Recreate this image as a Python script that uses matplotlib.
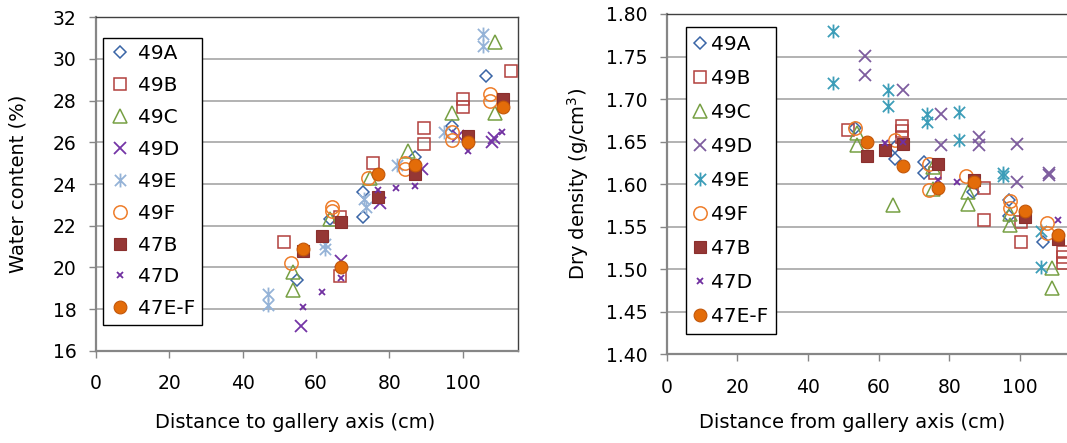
"""
Water content and dry density against distance to the gallery axis.
Two scatter panels, Excel-like styling.
"""
import matplotlib
matplotlib.use("Agg")
import matplotlib.pyplot as plt
from matplotlib.path import Path
from matplotlib.legend_handler import HandlerLine2D
from matplotlib.ticker import MultipleLocator, FormatStrFormatter

plt.rcParams["font.family"] = ["DejaVu Sans"]

SERIES = ["49A", "49B", "49C", "49D", "49E", "49F", "47B", "47D", "47E-F"]

# ---- left panel: water content (%) ----
wc_49a_x = [54.7, 63.8, 72.9, 72.9, 87.0, 97.0, 106.3]
wc_49a_y = [19.4, 22.3, 23.6, 22.4, 25.3, 26.8, 29.2]
wc_49b_x = [51.4, 66.5, 66.5, 75.6, 89.5, 89.5, 100.2, 100.2, 113.2]
wc_49b_y = [21.2, 22.4, 19.6, 25.0, 26.7, 25.9, 28.1, 27.7, 29.4]
wc_49c_x = [53.6, 53.6, 63.8, 74.7, 85.2, 97.0, 108.8, 108.8]
wc_49c_y = [19.8, 18.9, 22.3, 24.3, 25.6, 27.4, 30.8, 27.4]
wc_49d_x = [55.8, 66.7, 77.4, 88.8, 98.8, 107.9, 108.5]
wc_49d_y = [17.2, 20.3, 23.1, 24.7, 26.3, 26.0, 26.2]
wc_49e_x = [47.0, 47.0, 62.5, 62.5, 73.0, 73.5, 82.0, 95.0, 105.5, 105.5]
wc_49e_y = [18.7, 18.2, 21.1, 20.9, 23.3, 22.9, 24.9, 26.5, 31.2, 30.6]
wc_49f_x = [53.2, 64.4, 64.4, 74.3, 84.3, 84.3, 97.2, 97.2, 107.4, 107.4]
wc_49f_y = [20.2, 22.9, 22.7, 24.3, 25.0, 24.7, 26.5, 26.1, 28.3, 28.0]
wc_47b_x = [56.4, 61.5, 66.7, 77.0, 87.0, 101.5, 110.9]
wc_47b_y = [20.8, 21.5, 22.2, 23.4, 24.5, 26.3, 28.1]
wc_47d_x = [56.5, 61.5, 66.7, 77.0, 81.8, 87.0, 101.5, 110.8]
wc_47d_y = [18.1, 18.8, 19.5, 23.7, 23.8, 23.9, 25.6, 26.5]
wc_47ef_x = [56.4, 66.7, 77.0, 87.0, 101.5, 110.9]
wc_47ef_y = [20.9, 20.0, 24.5, 24.9, 26.0, 27.7]

# ---- right panel: dry density (g/cm3) ----
dd_49a_x = [53.3, 64.6, 64.6, 72.8, 72.8, 86.7, 96.9, 96.9, 106.4]
dd_49a_y = [1.666, 1.644, 1.630, 1.626, 1.613, 1.591, 1.581, 1.562, 1.532]
dd_49b_x = [51.4, 66.5, 66.5, 66.5, 75.9, 89.8, 89.8, 100.2, 100.2, 112.2, 112.2, 112.2]
dd_49b_y = [1.664, 1.668, 1.662, 1.656, 1.613, 1.595, 1.558, 1.532, 1.556, 1.520, 1.514, 1.507]
dd_49c_x = [53.7, 53.7, 63.9, 75.4, 75.4, 85.3, 85.3, 97.0, 97.0, 109.1, 109.1]
dd_49c_y = [1.646, 1.660, 1.576, 1.620, 1.594, 1.591, 1.577, 1.565, 1.552, 1.501, 1.478]
dd_49d_x = [56.1, 56.1, 66.9, 77.5, 77.5, 88.4, 88.4, 99.0, 99.0, 108.2, 108.2]
dd_49d_y = [1.751, 1.728, 1.711, 1.683, 1.646, 1.656, 1.646, 1.647, 1.602, 1.613, 1.611]
dd_49e_x = [47.0, 47.0, 62.7, 62.7, 73.5, 73.5, 82.8, 82.8, 95.2, 95.2, 105.8, 105.8]
dd_49e_y = [1.780, 1.719, 1.711, 1.692, 1.683, 1.673, 1.685, 1.652, 1.613, 1.609, 1.545, 1.503]
dd_49f_x = [53.3, 64.6, 74.3, 74.3, 84.6, 97.1, 97.1, 107.7, 107.7]
dd_49f_y = [1.666, 1.652, 1.624, 1.593, 1.609, 1.580, 1.572, 1.554, 1.543]
dd_47b_x = [56.6, 61.8, 66.8, 76.8, 86.9, 101.4, 110.8]
dd_47b_y = [1.633, 1.640, 1.647, 1.624, 1.605, 1.561, 1.535]
dd_47d_x = [61.7, 66.9, 76.8, 82.0, 110.8]
dd_47d_y = [1.648, 1.650, 1.605, 1.602, 1.558]
dd_47ef_x = [56.6, 66.8, 76.8, 86.9, 101.4, 110.8]
dd_47ef_y = [1.649, 1.621, 1.595, 1.602, 1.569, 1.540]

# Excel style "star" marker: an x with a vertical bar through it
_STAR = Path(
    [(-0.5, -0.5), (0.5, 0.5), (-0.5, 0.5), (0.5, -0.5), (0, -0.62), (0, 0.62)],
    [Path.MOVETO, Path.LINETO, Path.MOVETO, Path.LINETO, Path.MOVETO, Path.LINETO],
)


class _OffsetMarker(HandlerLine2D):
    """Legend handler that puts the marker at a chosen fraction of the handle."""

    def __init__(self, frac, **kw):
        super().__init__(**kw)
        self._frac = frac

    def get_xdata(self, legend, xdescent, ydescent, width, height, fontsize):
        xdata, _ = super().get_xdata(legend, xdescent, ydescent, width, height, fontsize)
        return xdata, [-xdescent + self._frac * width]


def _styles(purple_49d, col_49e):
    # marker, size, face, edge, edge width
    return {
        "49A": ("D", 6.6, "none", "#3A65A6", 1.1),
        "49B": ("s", 9.2, "none", "#B2403D", 1.1),
        "49C": ("^", 9.6, "none", "#77A044", 1.1),
        "49D": ("x", 9.2, "none", purple_49d, 1.3),
        "49E": (_STAR, 10.0, "none", col_49e, 1.3),
        "49F": ("o", 9.6, "none", "#EE7D2A", 1.1),
        "47B": ("s", 8.6, "#953735", "#8A2F2D", 0.8),
        "47D": ("x", 5.0, "none", "#7030A0", 1.3),
        "47E-F": ("o", 9.2, "#E36C09", "#C2570A", 0.8),
    }


def _panel(ax, data, styles):
    for name, (xs, ys) in zip(SERIES, data):
        m, ms, fc, ec, mew = styles[name]
        ax.plot(xs, ys, linestyle="none", marker=m, markersize=ms,
                markerfacecolor=fc, markeredgecolor=ec, markeredgewidth=mew,
                label=name, zorder=3)
    ax.set_xlim(0, 115)
    ax.xaxis.set_major_locator(MultipleLocator(20))
    ax.grid(axis="y", color="#A6A6A6", linewidth=1.2, zorder=0)
    ax.set_axisbelow(True)
    for side in ("left", "bottom"):
        ax.spines[side].set_color("#868686")
        ax.spines[side].set_linewidth(1.6)
    for side in ("top", "right"):
        ax.spines[side].set_color("#404040")
        ax.spines[side].set_linewidth(1.0)
    ax.tick_params(axis="both", direction="out", length=5, width=1,
                   color="#868686", labelsize=13.5)
    ax.tick_params(axis="y", pad=9)
    ax.tick_params(axis="x", pad=12)


def _legend(ax, anchor, frac, borderpad, handlelength, handletextpad, labelspacing):
    handler = _OffsetMarker(frac, numpoints=1)
    leg = ax.legend(loc="upper left", bbox_to_anchor=anchor, borderaxespad=0,
                    fontsize=14.5, frameon=True, fancybox=False,
                    edgecolor="black", framealpha=1,
                    handlelength=handlelength, handletextpad=handletextpad,
                    labelspacing=labelspacing, borderpad=borderpad,
                    handler_map={h: handler for h in ax.get_lines()})
    leg.get_frame().set_linewidth(1.0)
    return leg


fig = plt.figure(figsize=(10.67, 4.43), dpi=100)

ax1 = fig.add_axes([96 / 1067, 1 - 350.7 / 443, 421.7 / 1067, 333.4 / 443])
_panel(ax1, [
    (wc_49a_x, wc_49a_y), (wc_49b_x, wc_49b_y), (wc_49c_x, wc_49c_y),
    (wc_49d_x, wc_49d_y), (wc_49e_x, wc_49e_y), (wc_49f_x, wc_49f_y),
    (wc_47b_x, wc_47b_y), (wc_47d_x, wc_47d_y), (wc_47ef_x, wc_47ef_y),
], _styles("#7435A6", "#95B3D7"))
ax1.set_ylim(16, 32)
ax1.yaxis.set_major_locator(MultipleLocator(2))
_legend(ax1, ((103 - 96) / 421.7, (350.7 - 38) / 333.4),
        frac=0.8, borderpad=0.31, handlelength=1.1, handletextpad=0.33,
        labelspacing=0.64)

# right panel runs past the figure edge, like the cropped original
ax2 = fig.add_axes([666.7 / 1067, 1 - 354.3 / 443, 406.5 / 1067, 340.3 / 443])
_panel(ax2, [
    (dd_49a_x, dd_49a_y), (dd_49b_x, dd_49b_y), (dd_49c_x, dd_49c_y),
    (dd_49d_x, dd_49d_y), (dd_49e_x, dd_49e_y), (dd_49f_x, dd_49f_y),
    (dd_47b_x, dd_47b_y), (dd_47d_x, dd_47d_y), (dd_47ef_x, dd_47ef_y),
], _styles("#7D5C9E", "#3C9DB8"))
ax2.set_ylim(1.40, 1.80)
ax2.yaxis.set_major_locator(MultipleLocator(0.05))
ax2.yaxis.set_major_formatter(FormatStrFormatter("%.2f"))
_legend(ax2, ((686 - 666.7) / 406.5, (354.3 - 27.3) / 340.3),
        frac=0.5, borderpad=0.4, handlelength=0.6, handletextpad=0.25,
        labelspacing=0.74)

fig.text(18 / 1067, 1 - 184 / 443, "Water content (%)", rotation=90,
         ha="center", va="center", fontsize=14)
fig.text(578 / 1067, 1 - 184 / 443, "Dry density (g/cm$^3$)", rotation=90,
         ha="center", va="center", fontsize=14)
fig.text(295 / 1067, 1 - 422 / 443, "Distance to gallery axis (cm)",
         ha="center", va="center", fontsize=14)
fig.text(852 / 1067, 1 - 422 / 443, "Distance from gallery axis (cm)",
         ha="center", va="center", fontsize=14)

fig.savefig("out.png", dpi=100)
